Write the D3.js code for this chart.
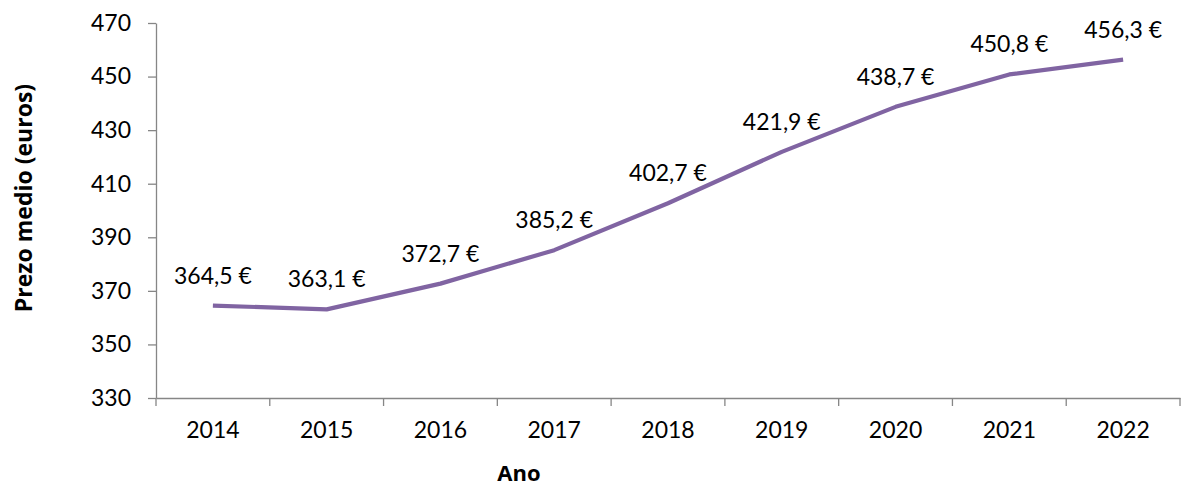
<!DOCTYPE html>
<html><head><meta charset="utf-8">
<script src="https://cdn.jsdelivr.net/npm/d3@7"></script>
<style>body{margin:0;background:#fff;} text{font-family:Lato,"Open Sans",sans-serif;}</style>
</head><body>
<svg id="c" width="1200" height="492"></svg>
<script>
const years = ["2014","2015","2016","2017","2018","2019","2020","2021","2022"];
const prices = [364.5,363.1,372.7,385.2,402.7,421.9,438.7,450.8,456.3];
const yTicks = [330,350,370,390,410,430,450,470];

(function(){
const svg = d3.select("#c");
const mLeft=156, mRight=1180, mTop=23, mBottom=398;
const x = d3.scaleBand().domain(years).range([mLeft,mRight]).padding(0);
const y = d3.scaleLinear().domain([330,470]).range([mBottom,mTop]);
const axisColor="#868686";

const ya = svg.append("g").attr("transform",`translate(${mLeft},0)`)
  .call(d3.axisLeft(y).tickValues(yTicks).tickSize(8).tickPadding(17).tickSizeOuter(0));
ya.selectAll("path,line").attr("stroke",axisColor).attr("stroke-width",1.3);
ya.selectAll("text").attr("font-size",23).attr("fill","#000").style("font-family","Lato");

const xa = svg.append("g").attr("transform",`translate(0,${mBottom})`)
  .call(d3.axisBottom(x).tickSize(0).tickSizeOuter(0).tickPadding(24));
xa.select("path").attr("stroke",axisColor).attr("stroke-width",1.3);
xa.selectAll("text").attr("font-size",23).attr("fill","#000").style("font-family","Lato");
const bounds = years.map(d=>x(d)).concat([mRight]);
svg.append("g").selectAll("line").data(bounds).join("line")
  .attr("x1",d=>d).attr("x2",d=>d).attr("y1",mBottom).attr("y2",mBottom+8)
  .attr("stroke",axisColor).attr("stroke-width",1.3);

const cx = d=>x(d)+x.bandwidth()/2;
const line = d3.line().x((d,i)=>cx(years[i])).y(d=>y(d));
svg.append("path").datum(prices).attr("d",line).attr("fill","none")
  .attr("stroke","#8064A2").attr("stroke-width",4.2).attr("stroke-linejoin","round");

svg.append("g").selectAll("text").data(prices).join("text")
  .attr("x",(d,i)=>cx(years[i])).attr("y",d=>y(d)-22)
  .attr("text-anchor","middle").attr("font-size",23).attr("fill","#000")
  .text(d=>d.toFixed(1).replace(".",",")+" €");

svg.append("text").attr("transform","translate(32,198) rotate(-90)")
  .attr("text-anchor","middle").attr("font-size",23).attr("font-weight","bold")
  .style("font-family","'Open Sans'").text("Prezo medio (euros)");
svg.append("text").attr("x",519).attr("y",481)
  .attr("text-anchor","middle").attr("font-size",22).attr("font-weight","bold")
  .style("font-family","'Open Sans'").text("Ano");
})();
</script>
</body></html>
